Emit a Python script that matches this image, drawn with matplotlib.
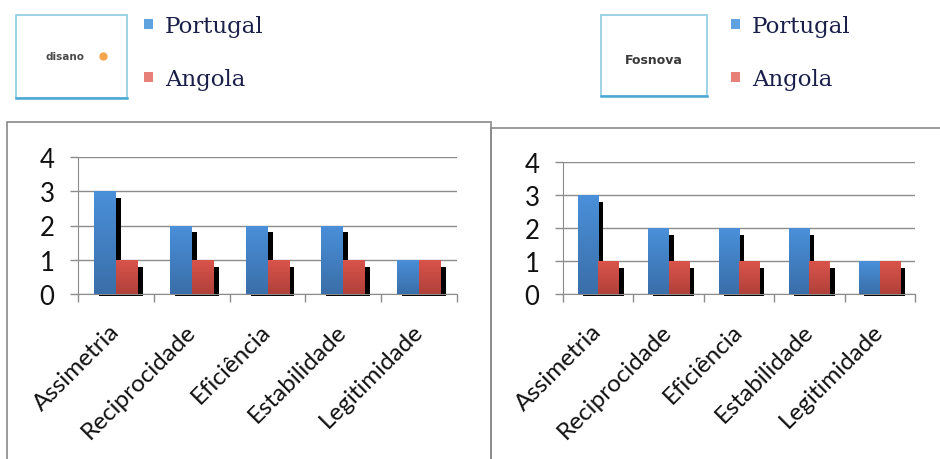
import numpy as np
import matplotlib
matplotlib.use("Agg")
from matplotlib import pyplot as plt
from matplotlib.patches import Rectangle
from matplotlib.colors import LinearSegmentedColormap
from matplotlib.transforms import ScaledTranslation

# data
categorias = ["Assimetria", "Reciprocidade", "Eficiência", "Estabilidade", "Legitimidade"]
portugal_disano = [3, 2, 2, 2, 1]
angola_disano = [1, 1, 1, 1, 1]
portugal_fosnova = [3, 2, 2, 2, 1]
angola_fosnova = [1, 1, 1, 1, 1]
series_names = ["Portugal", "Angola"]
logos = ["disano", "Fosnova"]

plt.rcParams["font.family"] = ["Lato", "DejaVu Sans"]

W, H = 940, 460
fig = plt.figure(figsize=(W / 100, H / 100), dpi=100)
fig.patch.set_facecolor("white")

blue_cmap = LinearSegmentedColormap.from_list("b", ["#3A6EA8", "#4A90DA"])
red_cmap = LinearSegmentedColormap.from_list("r", ["#B0413A", "#DA544B"])
grid_c = "#8C8C8C"


def fx(x):
    return x / W


def fy(y):
    return 1 - y / H


def draw_panel(ax, pt, ao):
    x = np.arange(len(categorias)) + 0.5
    w = 0.29
    grad = np.linspace(0, 1, 256).reshape(-1, 1)
    shadow_tr = ax.transData + ScaledTranslation(5 / 100, -2 / 100, fig.dpi_scale_trans)
    for vals, off in [(pt, -w / 2), (ao, w / 2)]:
        # black drop shadow
        ax.bar(x + off, np.array(vals) - 0.14, width=w, color="black",
               transform=shadow_tr, zorder=2, clip_on=False)
    for vals, off, cmap in [(pt, -w / 2, blue_cmap), (ao, w / 2, red_cmap)]:
        bars = ax.bar(x + off, vals, width=w, color="none", zorder=3)
        for b in bars:
            im = ax.imshow(grad, extent=[b.get_x(), b.get_x() + w, 0, b.get_height()],
                           origin="lower", aspect="auto", cmap=cmap, zorder=3)
            im.set_clip_path(b)
    ax.set_xlim(0, len(categorias))
    ax.set_ylim(0, 4)
    ax.set_yticks(range(5))
    ax.set_xticks(range(len(categorias) + 1))
    ax.set_xticklabels([])
    ax.set_xticks(x, minor=True)
    ax.set_xticklabels(categorias, minor=True, rotation=45, ha="right", va="center",
                       rotation_mode="anchor", fontsize=17.5, color="#111111")
    ax.tick_params(axis="x", which="minor", length=0, pad=24)
    ax.tick_params(axis="x", which="major", length=6, color=grid_c, width=1)
    ax.tick_params(axis="y", length=6, color=grid_c, width=1, pad=11, labelsize=18.5,
                   labelcolor="#111111")
    ax.grid(axis="y", color=grid_c, lw=1, zorder=0)
    ax.set_axisbelow(True)
    for s in ["top", "right"]:
        ax.spines[s].set_visible(False)
    ax.spines["left"].set_color(grid_c)
    ax.spines["bottom"].set_color(grid_c)
    ax.spines["left"].set_bounds(0, 4)


ax1 = fig.add_axes([fx(78), fy(295), fx(457) - fx(78), fy(158) - fy(295)])
draw_panel(ax1, portugal_disano, angola_disano)
ax2 = fig.add_axes([fx(563), fy(295), fx(915) - fx(563), fy(163) - fy(295)])
draw_panel(ax2, portugal_fosnova, angola_fosnova)

# panel borders
fig.add_artist(Rectangle((fx(7), -0.05), fx(491) - fx(7), fy(123) + 0.05,
                         transform=fig.transFigure, fill=False, ec="#8A8A8A", lw=1.2))
fig.add_artist(Rectangle((fx(491), -0.05), fx(945) - fx(491), fy(129) + 0.05,
                         transform=fig.transFigure, fill=False, ec="#8A8A8A", lw=1.2))

# logo boxes and legends
for (bx0, by0, bx1, by1), name, lx in [((16, 16, 127, 99), logos[0], 144),
                                       ((601, 16, 707, 97), logos[1], 731)]:
    fig.add_artist(Rectangle((fx(bx0), fy(by1)), fx(bx1) - fx(bx0), fy(by0) - fy(by1),
                             transform=fig.transFigure, fill=False, ec="#8CCBE4", lw=1.2))
    fig.add_artist(plt.Line2D([fx(bx0), fx(bx1)], [fy(by1), fy(by1)],
                              transform=fig.transFigure, color="#4AA8D4", lw=1.8))
    cx = (bx0 + bx1) / 2
    if name == "disano":
        fig.text(fx(cx - 7), fy(57), name, ha="center", va="center", fontsize=7.5,
                 weight="bold", color="#4A4A4A", family="DejaVu Sans")
        fig.add_artist(plt.Line2D([fx(103)], [fy(57)], marker="o", ms=5,
                                  color="#F5A54A", transform=fig.transFigure))
    else:
        fig.text(fx(cx), fy(61), name, ha="center", va="center", fontsize=9,
                 weight="bold", color="#3A3A3A", family="DejaVu Sans")
    for i, (s, c) in enumerate(zip(series_names, ["#5FA2E0", "#E8807A"])):
        ty = 27 + i * 53
        fig.add_artist(Rectangle((fx(lx), fy(ty + 3)), fx(9), 10 / H,
                                 transform=fig.transFigure, color=c, lw=0))
        fig.text(fx(lx + 21), fy(ty), s, ha="left", va="center", fontsize=16.5,
                 family="DejaVu Serif", color="#1A1F4A")

fig.savefig("out.png", dpi=100)
